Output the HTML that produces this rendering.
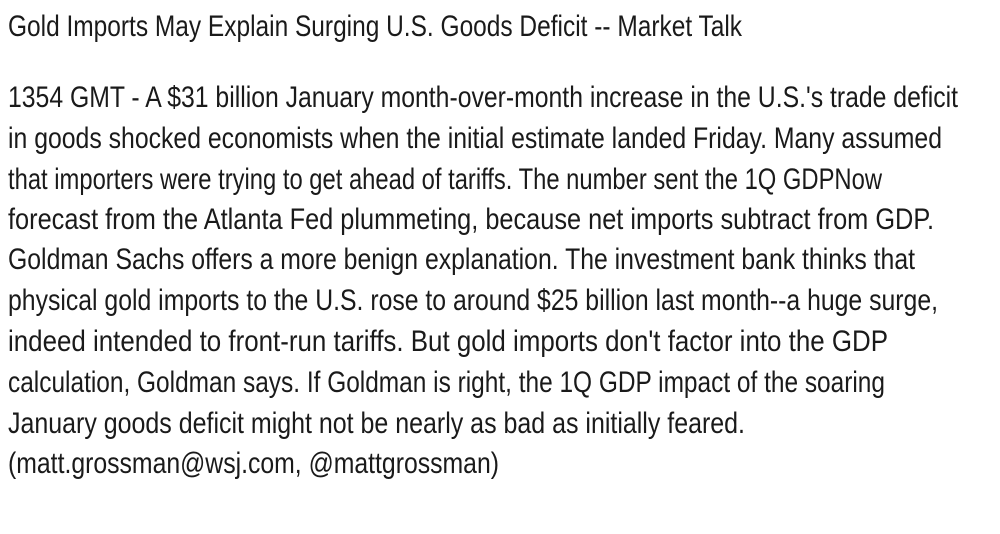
<!DOCTYPE html>
<html><head><meta charset="utf-8">
<style>
html,body{margin:0;padding:0;background:#fff;width:1000px;height:534px;overflow:hidden}
.l{position:absolute;left:8px;height:40px;line-height:40px;font-family:"Liberation Sans",sans-serif;font-size:30px;color:#1a1a1a;white-space:nowrap;transform-origin:0 50%}
</style></head>
<body>
<div class="l" data-w="734" style="top:7px">Gold Imports May Explain Surging U.S. Goods Deficit -- Market Talk</div>
<div>
<div class="l" data-w="950" style="top:78px">1354 GMT - A $31 billion January month-over-month increase in the U.S.'s trade deficit</div>
<div class="l" data-w="934" style="top:119px">in goods shocked economists when the initial estimate landed Friday. Many assumed</div>
<div class="l" data-w="874" style="top:160px">that importers were trying to get ahead of tariffs. The number sent the 1Q GDPNow</div>
<div class="l" data-w="926" style="top:200px">forecast from the Atlanta Fed plummeting, because net imports subtract from GDP.</div>
<div class="l" data-w="907" style="top:240px">Goldman Sachs offers a more benign explanation. The investment bank thinks that</div>
<div class="l" data-w="930" style="top:281px">physical gold imports to the U.S. rose to around $25 billion last month--a huge surge,</div>
<div class="l" data-w="880" style="top:322px">indeed intended to front-run tariffs. But gold imports don't factor into the GDP</div>
<div class="l" data-w="877" style="top:363px">calculation, Goldman says. If Goldman is right, the 1Q GDP impact of the soaring</div>
<div class="l" data-w="737" style="top:404px">January goods deficit might not be nearly as bad as initially feared.</div>
<div class="l" data-w="491" style="top:444px">(matt.grossman@wsj.com, @mattgrossman)</div>
</div>
<script>
document.querySelectorAll('.l').forEach(function(el){
  var w=el.getBoundingClientRect().width;
  var t=parseFloat(el.getAttribute('data-w'));
  el.style.transform='scaleX('+(t/w)+')';
});
</script>
</body></html>
